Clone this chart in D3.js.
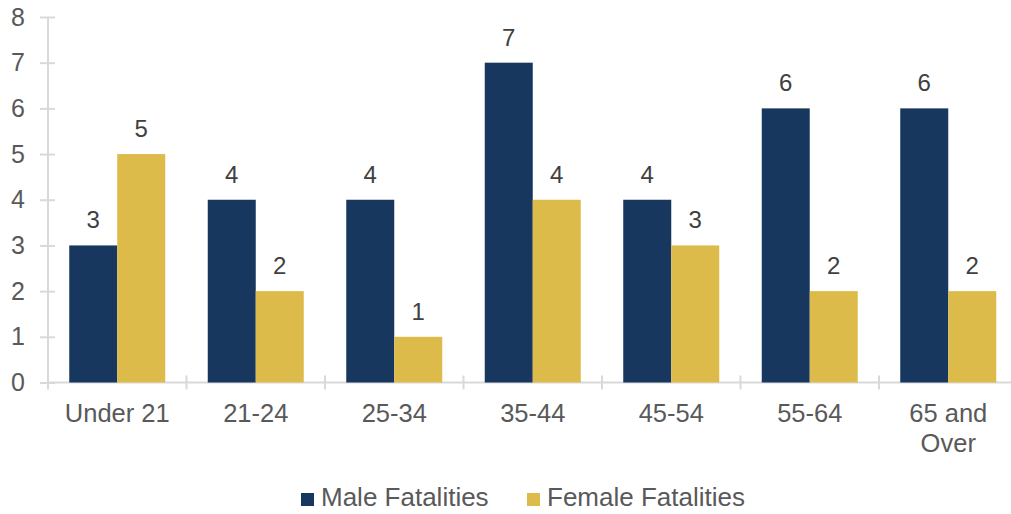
<!DOCTYPE html>
<html><head><meta charset="utf-8">
<script src="https://cdn.jsdelivr.net/npm/d3@7/dist/d3.min.js"></script>
<style>body{margin:0;background:#fff}svg{display:block;font-family:"Liberation Sans",Arial,sans-serif}</style>
</head><body><svg id="c" width="1011" height="514"></svg>
<script>
const categories = ["Under 21","21-24","25-34","35-44","45-54","55-64","65 and Over"];
const seriesNames = ["Male Fatalities","Female Fatalities"];
const maleValues = [3,4,4,7,4,6,6];
const femaleValues = [5,2,1,4,3,2,2];
const yTicks = [0,1,2,3,4,5,6,7,8];
const colors = ["#17375E","#DDBB4A"];

const svg = d3.select("#c");
const mLeft = 48, mRight = 1017.5, mTop = 17, mBottom = 382.5;
const x0 = d3.scaleBand().domain(categories).range([mLeft, mRight]);
const gap = 21.25;
const xs = d3.scaleBand().domain(seriesNames).range([gap, x0.bandwidth()-gap]);
const y = d3.scaleLinear().domain([0,8]).range([mBottom, mTop]);
const axisColor = "#D9D9D9";

// y axis
const ya = svg.append("g").attr("transform",`translate(${mLeft},0)`)
  .call(d3.axisLeft(y).tickValues(yTicks).tickSize(8).tickPadding(15).tickFormat(d3.format("d")));
ya.select(".domain").attr("stroke",axisColor).attr("stroke-width",2).attr("d",`M0,${mBottom}V${mTop}`);
ya.selectAll(".tick line").attr("stroke",axisColor).attr("stroke-width",2).attr("x1",7);
ya.selectAll(".tick text").attr("fill","#595959").attr("font-size",25).attr("font-family","Liberation Sans, Arial, sans-serif");

// x axis line + ticks at band boundaries
svg.append("line").attr("x1",mLeft).attr("x2",mRight).attr("y1",mBottom).attr("y2",mBottom).attr("stroke",axisColor).attr("stroke-width",2);
const bounds = categories.map(c=>x0(c)).concat([mRight]);
svg.append("g").selectAll("line").data(bounds).join("line")
  .attr("x1",d=>d).attr("x2",d=>d).attr("y1",mBottom-7).attr("y2",mBottom+7).attr("stroke",axisColor).attr("stroke-width",2);

// bars
const data = categories.map((c,i)=>({c, vals:[maleValues[i],femaleValues[i]]}));
const g = svg.append("g");
data.forEach(d=>{
  d.vals.forEach((v,j)=>{
    const bx = x0(d.c)+xs(seriesNames[j]);
    g.append("rect").attr("x",bx).attr("width",xs.bandwidth()).attr("y",y(v)).attr("height",y(0)-y(v)).attr("fill",colors[j]);
    g.append("text").attr("x",bx+xs.bandwidth()/2).attr("y",y(v)-17).attr("text-anchor","middle")
      .attr("font-size",24).attr("fill","#404040").text(v);
  });
});

// category labels
const cl = svg.append("g");
categories.forEach(c=>{
  const cx = x0(c)+x0.bandwidth()/2;
  const lines = c==="65 and Over" ? ["65 and","Over"] : [c];
  lines.forEach((t,k)=>{
    cl.append("text").attr("x",cx).attr("y",422+k*30).attr("text-anchor","middle")
      .attr("font-size",25.5).attr("fill","#595959").text(t);
  });
});

// legend
const leg = svg.append("g");
const legX = [301,527];
seriesNames.forEach((s,j)=>{
  leg.append("rect").attr("x",legX[j]).attr("y",493).attr("width",13).attr("height",13).attr("fill",colors[j]);
  leg.append("text").attr("x",legX[j]+20).attr("y",506).attr("font-size",26).attr("fill","#595959").text(s);
});
</script></body></html>
